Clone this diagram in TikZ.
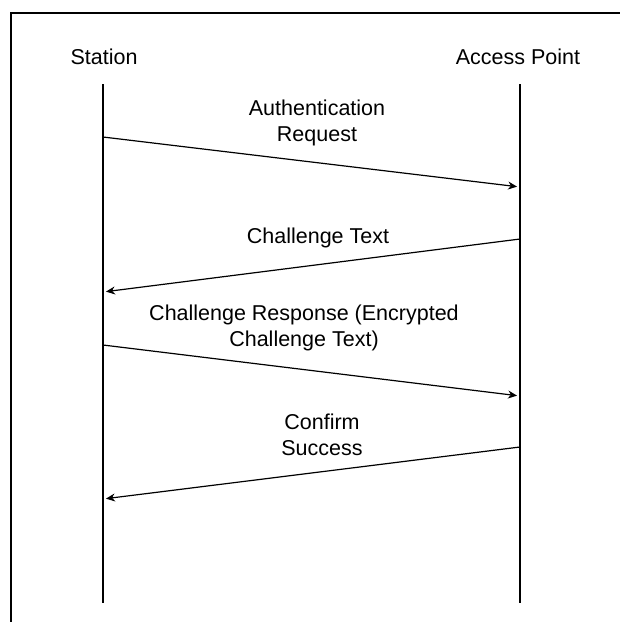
\documentclass[tikz,border=0pt]{standalone}
\usepackage{fontspec}
\setmainfont{Liberation Sans}
\usetikzlibrary{arrows.meta}

\begin{document}
\begin{tikzpicture}[x=1pt,y=-1pt]

\tikzset{
label/.style={font=\fontsize{21.5}{26.5}\selectfont,align=center,inner sep=0pt},
lifeline/.style={line width=1.4pt},
message/.style={line width=1.2pt,-{Stealth[length=9pt,width=8pt]},shorten >=3pt}
}

\useasboundingbox (0,0) rectangle (620,622);
\draw[line width=2pt] (11,622)--(11,13)--(620,13);

\node[label] (station) at (104,57) {Station};
\node[label] (access-point) at (518,57) {Access Point};

\coordinate (station-top) at (103,84);
\coordinate (station-bottom) at (103,603);
\coordinate (access-point-top) at (520,84);
\coordinate (access-point-bottom) at (520,603);

\draw[lifeline] (station-top)--(station-bottom);
\draw[lifeline] (access-point-top)--(access-point-bottom);

\coordinate (auth-start) at (103,137);
\coordinate (auth-end) at (520,187);
\coordinate (challenge-start) at (520,239);
\coordinate (challenge-end) at (103,292);
\coordinate (response-start) at (103,345);
\coordinate (response-end) at (520,396);
\coordinate (confirm-start) at (520,447);
\coordinate (confirm-end) at (103,499);

\draw[message] (auth-start)--(auth-end);
\draw[message] (challenge-start)--(challenge-end);
\draw[message] (response-start)--(response-end);
\draw[message] (confirm-start)--(confirm-end);

\node[label] (auth-request) at (317,123) {Authentication\\Request};
\node[label] (challenge-text) at (318,238) {Challenge Text};
\node[label] (challenge-response) at (304,328) {Challenge Response (Encrypted\\Challenge Text)};
\node[label] (confirm-success) at (322,435) {Confirm\\Success};

\end{tikzpicture}
\end{document}
